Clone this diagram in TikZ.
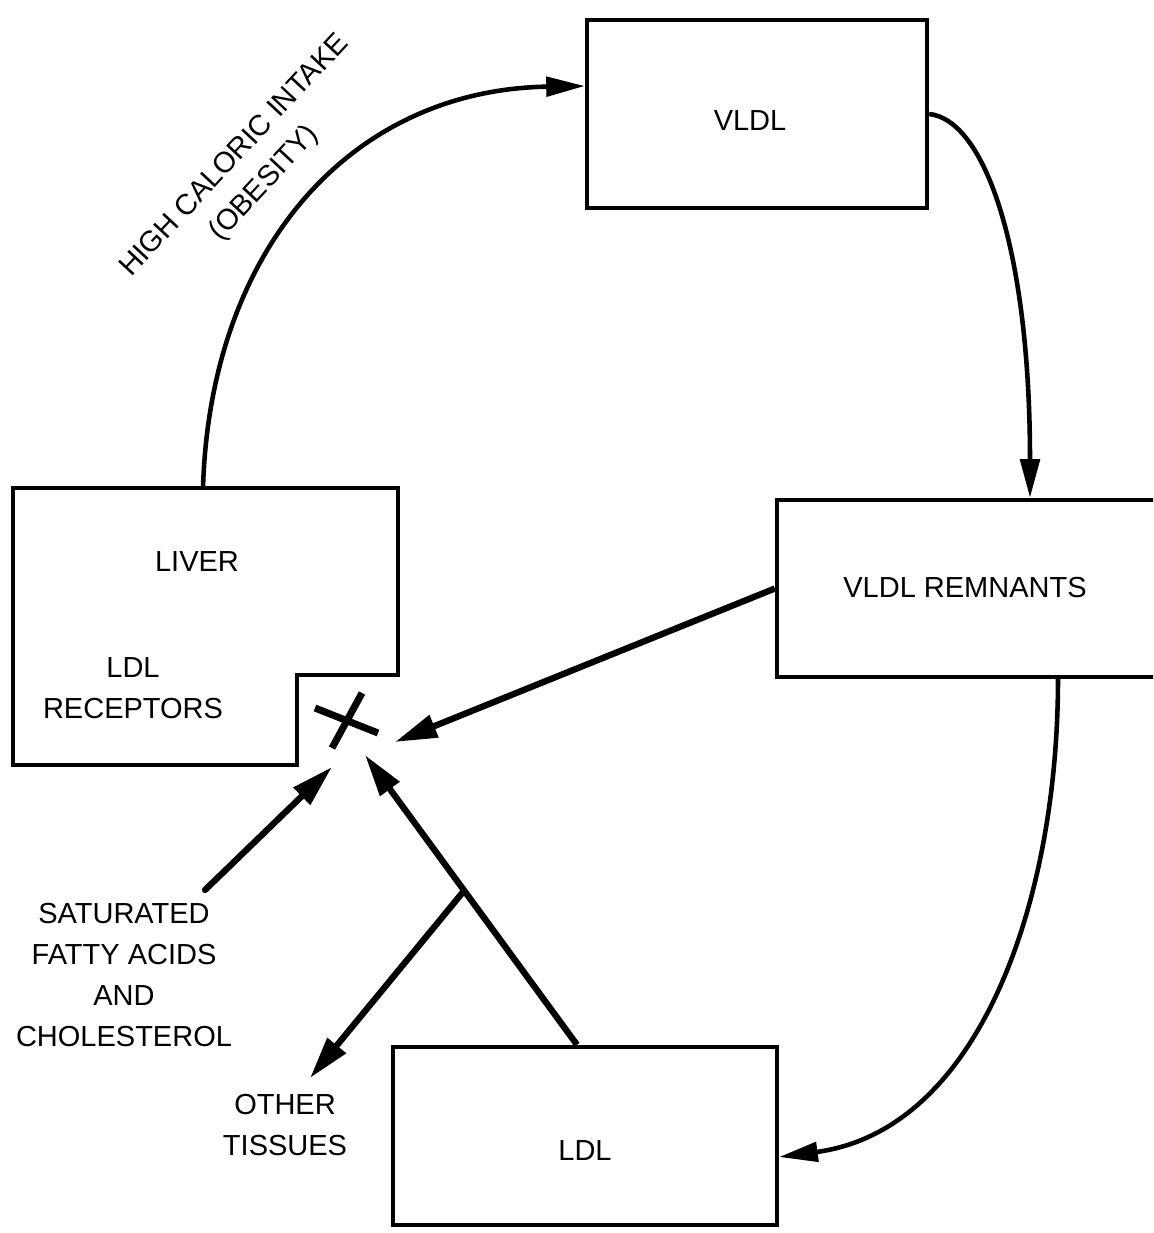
\documentclass[tikz,border=0pt]{standalone}
\usepackage{fontspec}
\setmainfont{Liberation Sans}
\usetikzlibrary{arrows.meta,calc}
\begin{document}
\begin{tikzpicture}[x=0.02cm,y=-0.02cm,
  box/.style={draw, line width=2.5pt, rectangle, inner sep=0pt},
  lbl/.style={font=\fontsize{16.5}{23.2}\selectfont, inner sep=0pt, align=center},
  curvearrow/.style={line width=2.6pt, -{Triangle[length=22pt,width=11pt]}},
  strarrow/.style={line width=3.6pt, -{Triangle[length=24pt,width=13pt]}},
  xstroke/.style={line width=4pt}
]
\path[use as bounding box] (0,0) rectangle (1153,1233);
\clip (0,0) rectangle (1153,1233);

% boxes
\node[box, minimum width=6.8cm, minimum height=3.76cm] (vldl) at (757,114) {};
\node[lbl] (vldlt) at (750,121) {VLDL};

\node[box, minimum width=7.86cm, minimum height=3.54cm] (rem) at (973.5,588.5) {};
\node[lbl] (remt) at (965,588) {VLDL REMNANTS};

\node[box, minimum width=7.68cm, minimum height=3.56cm] (ldl) at (585,1136) {};
\node[lbl] (ldlt) at (585,1151) {LDL};

% liver outline
\draw[line width=2.5pt] (13,488) -- (398,488) -- (398,675) -- (297,675) -- (297,765) -- (13,765) -- cycle;
\node[lbl] (liver) at (197,562) {LIVER};
\node[lbl] (rec) at (133,688) {LDL\\RECEPTORS};

% coordinates
\coordinate (livertop) at (203,488);
\coordinate (tipA) at (395,742);
\coordinate (tipB) at (365,755);
\coordinate (tipC) at (332,767);
\coordinate (tipD) at (310,1078);
\coordinate (satstart) at (205,890);
\coordinate (branch) at (463,892);

% curved connectors
\draw[curvearrow] (livertop) .. controls (210,250) and (350,90) .. ([yshift=0.56cm]vldl.west);
\draw[curvearrow] (vldl.east) .. controls (985,120) and (1030,250) .. ([xshift=1.13cm]rem.north);
\draw[curvearrow] ([xshift=1.69cm]rem.south) .. controls (1058,900) and (980,1130) .. ([yshift=-0.42cm]ldl.east);

% straight arrows
\draw[strarrow] (rem.west) -- (tipA);
\draw[strarrow] ([xshift=-0.16cm]ldl.north) -- (tipB);
\draw[strarrow] (branch) -- (tipD);
\draw[strarrow, line cap=round] (satstart) -- (tipC);

% X mark
\draw[xstroke] (315,708) -- (378,733);
\draw[xstroke] (362,693) -- (332,748);

% labels
\node[lbl, rotate=47] (hci) at (250,170) {HIGH CALORIC INTAKE\\(OBESITY)};
\node[lbl] (sat) at (124,975) {SATURATED\\FATTY ACIDS\\AND\\CHOLESTEROL};
\node[lbl] (oth) at (285,1125) {OTHER\\TISSUES};
\end{tikzpicture}
\end{document}
